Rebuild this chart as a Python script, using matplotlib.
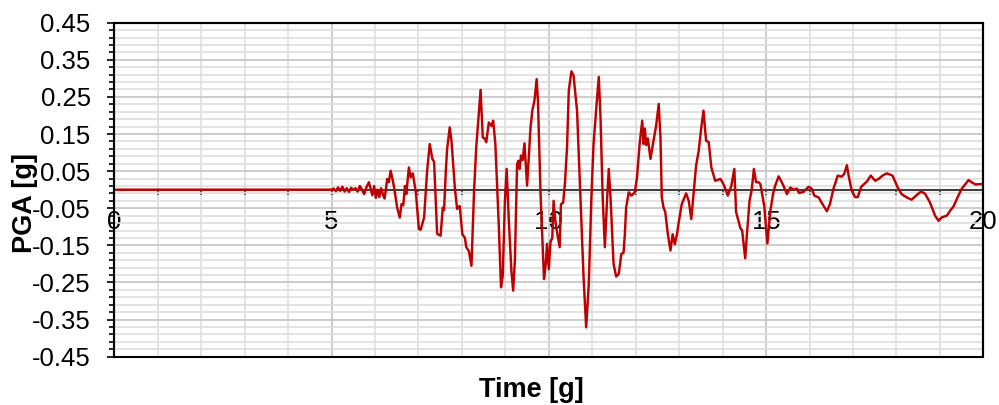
import matplotlib
matplotlib.use("Agg")
import matplotlib.pyplot as plt
from matplotlib.ticker import MultipleLocator, FixedLocator, FormatStrFormatter
from matplotlib.patches import Rectangle

plt.rcParams['font.family'] = ['Liberation Sans', 'DejaVu Sans']

time_s = [0.0, 5.0, 5.05, 5.1, 5.15, 5.2, 5.25, 5.3, 5.35, 5.4, 5.45, 5.5, 5.55, 5.6, 5.65,
          5.7, 5.75, 5.8, 5.86, 5.9, 5.94, 5.98, 6.02, 6.06, 6.1, 6.14, 6.18, 6.22, 6.25,
          6.28, 6.32, 6.36, 6.4, 6.44, 6.51, 6.57, 6.61, 6.65, 6.69, 6.72, 6.78, 6.82, 6.87,
          6.94, 7.01, 7.05, 7.13, 7.20, 7.26, 7.32, 7.36, 7.43, 7.51, 7.56, 7.59, 7.63, 7.66,
          7.72, 7.76, 7.84, 7.89, 7.95, 8.01, 8.07, 8.10, 8.16, 8.22, 8.28, 8.33, 8.43, 8.48,
          8.53, 8.56, 8.62, 8.68, 8.72, 8.77, 8.85, 8.90, 8.94, 8.99, 9.03, 9.08, 9.14, 9.18,
          9.22, 9.27, 9.30, 9.33, 9.36, 9.40, 9.44, 9.50, 9.58, 9.62, 9.67, 9.72, 9.75, 9.81,
          9.89, 9.93, 9.96, 10.0, 10.04, 10.08, 10.11, 10.15, 10.19, 10.25, 10.28, 10.33,
          10.37, 10.42, 10.46, 10.52, 10.57, 10.65, 10.73, 10.80, 10.86, 10.92, 10.98, 11.03,
          11.10, 11.15, 11.19, 11.24, 11.29, 11.34, 11.38, 11.42, 11.49, 11.55, 11.61, 11.67,
          11.72, 11.75, 11.78, 11.84, 11.90, 11.98, 12.03, 12.09, 12.15, 12.18, 12.21, 12.24,
          12.28, 12.34, 12.41, 12.47, 12.53, 12.57, 12.60, 12.64, 12.68, 12.74, 12.80, 12.85,
          12.90, 12.95, 12.99, 13.06, 13.16, 13.22, 13.28, 13.33, 13.39, 13.45, 13.51, 13.56,
          13.62, 13.68, 13.74, 13.83, 13.95, 14.02, 14.12, 14.20, 14.27, 14.31, 14.37, 14.41,
          14.45, 14.52, 14.56, 14.62, 14.67, 14.72, 14.77, 14.83, 14.87, 14.96, 15.03, 15.06,
          15.10, 15.16, 15.21, 15.29, 15.40, 15.48, 15.56, 15.63, 15.71, 15.76, 15.86, 15.98,
          16.05, 16.11, 16.21, 16.30, 16.40, 16.47, 16.55, 16.65, 16.74, 16.80, 16.86, 16.90,
          16.97, 17.05, 17.11, 17.19, 17.32, 17.41, 17.51, 17.59, 17.68, 17.78, 17.91, 18.03,
          18.12, 18.24, 18.35, 18.47, 18.57, 18.66, 18.77, 18.89, 18.97, 19.04, 19.16, 19.24,
          19.31, 19.41, 19.50, 19.66, 19.73, 19.82, 19.92, 20.0]

pga_g = [0.0, 0.0, 0.003, -0.004, 0.006, -0.003, 0.008, -0.005, 0.004, -0.006, 0.005, 0.0, 0.004,
         -0.005, 0.01, 0.0, -0.012, 0.006, 0.02, 0.002, -0.015, 0.01, -0.022, 0.0, -0.02, 0.004,
         -0.012, -0.024, 0.0, 0.029, 0.02, 0.051, 0.03, 0.006, -0.048, -0.075, -0.039, -0.042,
         0.01, -0.012, 0.06, 0.033, 0.044, -0.007, -0.106, -0.108, -0.075, 0.051, 0.123, 0.083,
         0.075, -0.119, -0.124, -0.048, -0.055, 0.051, 0.11, 0.168, 0.132, 0.002, -0.052, -0.044,
         -0.12, -0.13, -0.155, -0.165, -0.205, -0.003, 0.114, 0.269, 0.141, 0.137, 0.128, 0.181,
         0.172, 0.186, 0.123, -0.10, -0.263, -0.232, -0.03, 0.056, -0.084, -0.22, -0.272, -0.19,
         0.069, 0.078, 0.056, 0.092, 0.08, 0.125, 0.011, 0.168, 0.213, 0.24, 0.298, 0.24, -0.012,
         -0.241, -0.2, -0.146, -0.214, -0.14, -0.13, -0.03, -0.084, -0.115, -0.155, -0.039,
         -0.035, 0.015, 0.114, 0.267, 0.319, 0.307, 0.213, -0.03, -0.236, -0.371, -0.255, -0.02,
         0.123, 0.231, 0.304, 0.195, -0.02, -0.155, -0.03, 0.056, -0.02, -0.2, -0.234, -0.227,
         -0.173, -0.17, -0.12, -0.048, -0.007, -0.016, -0.007, 0.033, 0.123, 0.186, 0.123, 0.165,
         0.12, 0.138, 0.083, 0.132, 0.172, 0.231, 0.14, -0.02, -0.048, -0.06, -0.12, -0.164,
         -0.12, -0.147, -0.12, -0.088, -0.039, -0.01, -0.03, -0.079, -0.012, 0.065, 0.105, 0.168,
         0.213, 0.132, 0.128, 0.06, 0.024, 0.029, 0.015, -0.016, 0.01, 0.056, -0.06, -0.086,
         -0.104, -0.11, -0.185, -0.12, -0.03, 0.0, 0.056, 0.02, 0.02, 0.015, -0.046, -0.145,
         -0.106, -0.057, -0.012, 0.011, 0.036, 0.011, -0.012, 0.006, 0.0, 0.003, -0.009, -0.006,
         0.008, 0.003, -0.016, -0.021, -0.039, -0.058, -0.039, 0.002, 0.038, 0.035, 0.043, 0.066,
         0.038, -0.002, -0.02, -0.02, 0.008, 0.022, 0.038, 0.024, 0.029, 0.038, 0.044, 0.038,
         0.006, -0.012, -0.021, -0.027, -0.014, -0.005, -0.011, -0.034, -0.07, -0.084, -0.075,
         -0.07, -0.056, -0.046, -0.02, 0.002, 0.026, 0.02, 0.014, 0.015, 0.015]

x_major = [0, 5, 10, 15, 20]
y_major = [-0.45, -0.35, -0.25, -0.15, -0.05, 0.05, 0.15, 0.25, 0.35, 0.45]
x_label = "Time [g]"
y_label = "PGA [g]"

fig = plt.figure(figsize=(9.99, 4.05), dpi=100)
ax = fig.add_axes([0.1144, 0.1193, 0.8699, 0.8247])

ax.plot(time_s, pga_g, color='#c00000', lw=1.75, zorder=3, solid_joinstyle='round')

ax.set_xlim(0, 20)
ax.set_ylim(-0.45, 0.45)

ax.xaxis.set_major_locator(FixedLocator(x_major))
ax.xaxis.set_minor_locator(MultipleLocator(1))
ax.yaxis.set_major_locator(FixedLocator(y_major))
ax.yaxis.set_minor_locator(FixedLocator([round(-0.45 + 0.02 * i, 2) for i in range(46)]))
ax.yaxis.set_major_formatter(FormatStrFormatter('%.2f'))
ax.xaxis.set_major_formatter(FormatStrFormatter('%d'))

ax.grid(True, which='major', color='#c4c4c4', lw=1.2, zorder=0)
ax.grid(True, which='minor', color='#dedede', lw=1.2, zorder=0)
ax.set_axisbelow(True)

ax.spines['bottom'].set_position(('data', 0))
ax.spines['bottom'].set_color('#404040')
ax.spines['bottom'].set_linewidth(1.5)
for s in ['left', 'top', 'right']:
    ax.spines[s].set_color('black')
    ax.spines[s].set_linewidth(1.5)
ax.add_patch(Rectangle((0, 0), 1, 1, transform=ax.transAxes, fill=False,
                       edgecolor='black', lw=1.5, clip_on=False, zorder=4))

ax.tick_params(axis='x', which='both', direction='out', length=3.6, width=1.2,
               color='#404040', labelsize=18.5, pad=11)
ax.tick_params(axis='y', which='major', direction='out', length=5, width=1.2,
               color='black', labelsize=18.5, pad=12)
ax.tick_params(axis='y', which='minor', direction='out', length=3.6, width=1.2, color='black')

ax.set_xlabel(x_label, fontsize=19.5, fontweight='bold')
ax.set_ylabel(y_label, fontsize=19.5, fontweight='bold')
ax.xaxis.set_label_coords(0.4795, -0.062)
ax.yaxis.set_label_coords(-0.088, 0.46)

fig.savefig('out.png', dpi=100)
